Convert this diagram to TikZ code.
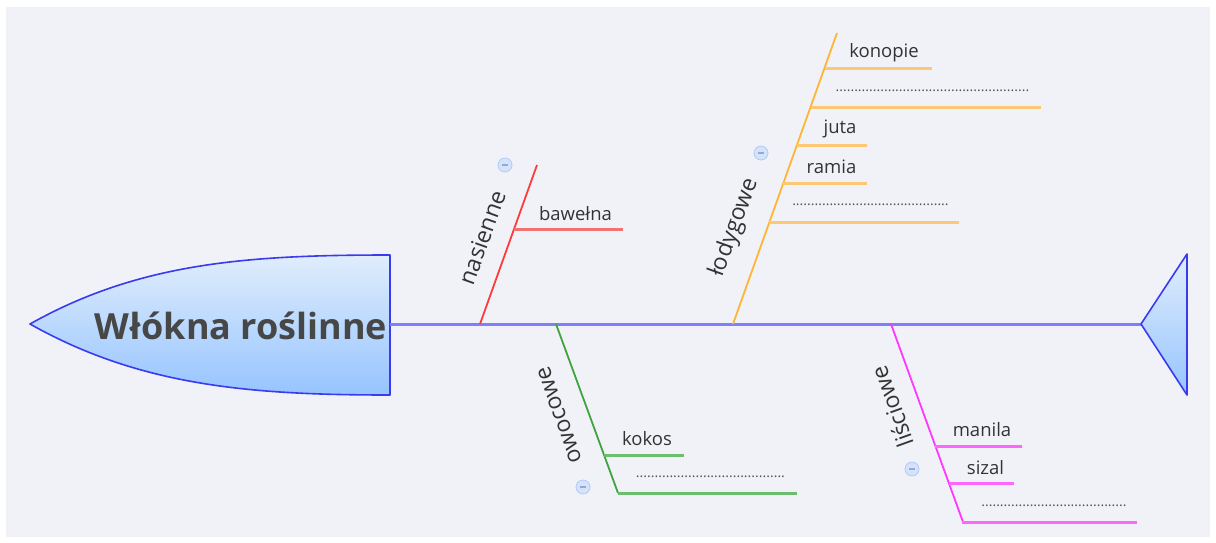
\documentclass[tikz,border=0pt]{standalone}
\usepackage{fontspec}
\setmainfont{Open Sans}
\definecolor{panel}{HTML}{F1F2F8}
\definecolor{edgeblue}{HTML}{3A3AEE}
\definecolor{spineblue}{HTML}{7F7FFA}
\definecolor{shadetop}{HTML}{E0EDFC}
\definecolor{shadebot}{HTML}{96C4FF}
\definecolor{txt}{HTML}{333333}
\definecolor{redA}{HTML}{FF3A3A}
\definecolor{redB}{HTML}{F27272}
\definecolor{orA}{HTML}{FFB534}
\definecolor{orB}{HTML}{FCC873}
\definecolor{grA}{HTML}{3FA33F}
\definecolor{grB}{HTML}{6CBE6C}
\definecolor{mgA}{HTML}{FF38FF}
\definecolor{mgB}{HTML}{FF66FF}
\definecolor{knobfill}{HTML}{D3E3FB}
\definecolor{knobedge}{HTML}{B0CCF4}
\definecolor{knobbar}{HTML}{97A9CC}
\tikzset{
  bone/.style={line width=1.8pt},
  rib/.style={line width=3pt},
  cat/.style={font=\fontsize{23}{23}\selectfont, text=txt, inner sep=0pt},
  item/.style={font=\fontsize{18.5}{18.5}\selectfont, text=txt, anchor=base, inner sep=0pt},
  filler/.style={font=\fontsize{14}{14}\selectfont, text=txt!85, anchor=base, inner sep=0pt},
  knob/.style={circle, minimum size=14pt, inner sep=0pt, fill=knobfill, draw=knobedge, line width=0.8pt,
    path picture={\draw[knobbar, line width=1.6pt] ([xshift=-3.4pt]path picture bounding box.center) -- ([xshift=3.4pt]path picture bounding box.center);}},
  shell/.style={draw=edgeblue, line width=1.6pt, line join=round, top color=shadetop, bottom color=shadebot}
}
\begin{document}
\begin{tikzpicture}[x=1pt,y=-1pt]
% canvas
\fill[white] (0,0) rectangle (1216,542);
\fill[panel] (6,7) rectangle (1210,537);
\useasboundingbox (0,0) rectangle (1216,542);

% head of the fish
\draw[shell] (390,255) -- (390,395) .. controls (250,395) and (140,386) .. (30,324)
  .. controls (140,262) and (250,255) .. (390,255) -- cycle;
\node[font=\bfseries\fontsize{36}{36}\selectfont, text=black!72, anchor=base] (title) at (241,339) {Włókna roślinne};

% spine and tail
\coordinate (spineL) at (390,324);
\coordinate (spineR) at (1141,324);
\draw[spineblue, line width=3pt] (spineL) -- (spineR);
\coordinate (tailT) at (1187,254);
\coordinate (tailB) at (1187,395);
\draw[shell] (spineR) -- (tailT) -- (tailB) -- cycle;

% --- nasienne (red) ---
\coordinate (n0) at (480,324);
\coordinate (n1) at (537,165);
\draw[redA, bone] (n0) -- (n1);
\coordinate (nb) at (514,229);
\coordinate (nbE) at (623,229);
\draw[redB, rib] (nb) -- (nbE);
\node[item] (bawelna) at (575.5,220) {bawełna};
\node[cat, rotate=70.4] (nasienne) at (482.5,237.5) {nasienne};
\node[knob] (kn1) at (505,165) {};

% --- łodygowe (orange) ---
\coordinate (l0) at (733,324);
\coordinate (l1) at (837,33);
\draw[orA, bone] (l0) -- (l1);
\coordinate (la) at (825,68);   \coordinate (laE) at (932,68);
\coordinate (lb) at (811,107);  \coordinate (lbE) at (1041,107);
\coordinate (lc) at (797,145);  \coordinate (lcE) at (867,145);
\coordinate (ld) at (783,183);  \coordinate (ldE) at (867,183);
\coordinate (le) at (769,222);  \coordinate (leE) at (959,222);
\foreach \a in {la,lb,lc,ld,le} \draw[orB, rib] (\a) -- (\a E);
\node[item] (konopie) at (884,57) {konopie};
\node[filler] (ldots1) at (932.5,91) {....................................................};
\node[item] (juta) at (840,133) {juta};
\node[item] (ramia) at (831.5,173) {ramia};
\node[filler] (ldots2) at (870.5,205) {..........................................};
\node[cat, rotate=70.3] (lodygowe) at (734.5,227.5) {łodygowe};
\node[knob] (kn2) at (761,153) {};

% --- owocowe (green) ---
\coordinate (o0) at (556,324);
\coordinate (o1) at (618,493);
\draw[grA, bone] (o0) -- (o1);
\coordinate (oa) at (604,455);  \coordinate (oaE) at (684,455);
\coordinate (ob) at (618,493);  \coordinate (obE) at (797,493);
\foreach \a in {oa,ob} \draw[grB, rib] (\a) -- (\a E);
\node[item] (kokos) at (647,445) {kokos};
\node[filler] (odots) at (710.5,477) {........................................};
\node[cat, rotate=109.8] (owocowe) at (560,415) {owocowe};
\node[knob] (kn3) at (583,487) {};

% --- liściowe (magenta) ---
\coordinate (s0) at (891,324);
\coordinate (s1) at (963,522);
\draw[mgA, bone] (s0) -- (s1);
\coordinate (sa) at (935,446);  \coordinate (saE) at (1022,446);
\coordinate (sb) at (949,483);  \coordinate (sbE) at (1014,483);
\coordinate (sc) at (962,522);  \coordinate (scE) at (1137,522);
\foreach \a in {sa,sb,sc} \draw[mgB, rib] (\a) -- (\a E);
\node[item] (manila) at (982,436) {manila};
\node[item] (sizal) at (985.5,474) {sizal};
\node[filler] (sdots) at (1054,506) {.......................................};
\node[cat, rotate=109.7] (lisciowe) at (892.5,407) {liściowe};
\node[knob] (kn4) at (912,469) {};
\end{tikzpicture}
\end{document}
